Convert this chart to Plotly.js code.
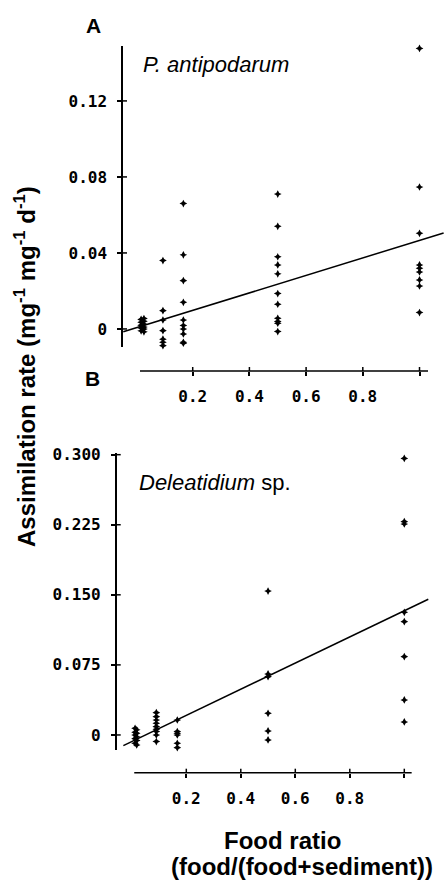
<!DOCTYPE html>
<html>
<head>
<meta charset="utf-8">
<script src="https://cdn.plot.ly/plotly-3.0.1.min.js"></script>
<style>html,body{margin:0;padding:0;background:#fff;}#chart{width:444px;height:881px;}</style>
</head>
<body>
<div id="chart"></div>
<script>
// Panel A: P. antipodarum
const xA1 = [0.018, 0.018, 0.018, 0.018, 0.018];
const yA1 = [0.005, 0.0035, 0.002, 0.0005, -0.001];
const xA2 = [0.028, 0.028, 0.028, 0.028, 0.028, 0.028];
const yA2 = [0.0055, 0.004, 0.0025, 0.001, 0, -0.0015];
const xA3 = [0.095, 0.095, 0.095, 0.095, 0.095, 0.095, 0.095];
const yA3 = [0.036, 0.0096, 0.0047, -0.0009, -0.0054, -0.007, -0.0088];
const xA4 = [0.167, 0.167, 0.167, 0.167, 0.167, 0.167, 0.167, 0.167, 0.167, 0.167];
const yA4 = [0.066, 0.039, 0.0254, 0.014, 0.0047, 0.0018, 0, -0.0026, -0.007, -0.0075];
const xA5 = [0.5, 0.5, 0.5, 0.5, 0.5, 0.5, 0.5, 0.5, 0.5, 0.5, 0.5];
const yA5 = [0.071, 0.054, 0.038, 0.0337, 0.029, 0.0186, 0.013, 0.0056, 0.0039, 0.003, -0.0014];
const xA6 = [1.0, 1.0, 1.0, 1.0, 1.0, 1.0, 1.0, 1.0, 1.0];
const yA6 = [0.1476, 0.0747, 0.0503, 0.0337, 0.032, 0.030, 0.0258, 0.0226, 0.0086];
const xLineA = [-0.045, 1.085];
const yLineA = [-0.0015, 0.0505];

// Panel B: Deleatidium sp.
const xB1 = [0.012, 0.012, 0.012, 0.012, 0.012];
const yB1 = [0.0071, 0.003, 0, -0.004, -0.0089];
const xB2 = [0.018, 0.018, 0.018, 0.018, 0.018];
const yB2 = [0.0055, 0.0018, -0.002, -0.006, -0.0107];
const xB3 = [0.09, 0.09, 0.09, 0.09, 0.09, 0.09, 0.09, 0.09, 0.09];
const yB3 = [0.0239, 0.0196, 0.016, 0.0125, 0.0089, 0.0061, 0.0036, 0, -0.0071];
const xB4 = [0.167, 0.167, 0.167, 0.167, 0.167, 0.167];
const yB4 = [0.016, 0.0036, 0.0018, 0, -0.0089, -0.0136];
const xB5 = [0.5, 0.5, 0.5, 0.5, 0.5, 0.5];
const yB5 = [0.154, 0.0653, 0.0624, 0.0232, 0.0043, -0.0053];
const xB6 = [1.0, 1.0, 1.0, 1.0, 1.0, 1.0, 1.0, 1.0];
const yB6 = [0.296, 0.2283, 0.2258, 0.1313, 0.1213, 0.0838, 0.0375, 0.0139];
const xLineB = [-0.031, 1.088];
const yLineB = [-0.0114, 0.1453];

// Tick labels
const xTickVals = [0.2, 0.4, 0.6, 0.8, 1.0];
const xTickText = ["0.2", "0.4", "0.6", "0.8", ""];
const yTickValsA = [0, 0.04, 0.08, 0.12];
const yTickTextA = ["0", "0.04", "0.08", "0.12"];
const yTickValsB = [0, 0.075, 0.150, 0.225, 0.300];
const yTickTextB = ["0", "0.075", "0.150", "0.225", "0.300"];

const W = 444, H = 881;
const px = v => v / W;
const py = v => 1 - v / H;

const mk = {symbol: 'star-diamond', size: 5.5, color: 'black'};
function pts(x, y, xa, ya) {
  return {x: x, y: y, xaxis: xa, yaxis: ya, type: 'scatter', mode: 'markers', marker: mk, cliponaxis: false, hoverinfo: 'skip'};
}
const lineStyle = {color: 'black', width: 1.5};

const data = [
  pts(xA1, yA1, 'x', 'y'), pts(xA2, yA2, 'x', 'y'), pts(xA3, yA3, 'x', 'y'),
  pts(xA4, yA4, 'x', 'y'), pts(xA5, yA5, 'x', 'y'), pts(xA6, yA6, 'x', 'y'),
  {x: xLineA, y: yLineA, xaxis: 'x', yaxis: 'y', type: 'scatter', mode: 'lines', line: lineStyle, hoverinfo: 'skip'},
  pts(xB1, yB1, 'x2', 'y2'), pts(xB2, yB2, 'x2', 'y2'), pts(xB3, yB3, 'x2', 'y2'),
  pts(xB4, yB4, 'x2', 'y2'), pts(xB5, yB5, 'x2', 'y2'), pts(xB6, yB6, 'x2', 'y2'),
  {x: xLineB, y: yLineB, xaxis: 'x2', yaxis: 'y2', type: 'scatter', mode: 'lines', line: lineStyle, hoverinfo: 'skip'}
];

const tickFont = {family: 'DejaVu Sans Mono', size: 16, color: 'black', weight: 'bold'};
const rangeXA = [-0.0459, 1.0864], rangeYA = [-0.0095, 0.1489];
const rangeXB = [-0.0554, 1.1457], rangeYB = [-0.0161, 0.3018];
const domXA = [px(123), 1], domYA = [py(347), py(46)];
const domXB = [px(116.7), 1], domYB = [py(750), py(453)];
const posXA = py(371), posXB = py(772.7);
const TL = 4; // half tick length in px

// axis value -> paper fraction (for the detached axis lines and inner tick halves)
const toPaper = (v, r, d) => d[0] + (v - r[0]) / (r[1] - r[0]) * (d[1] - d[0]);

function xax(range, dom, pos) {
  return {
    range: range, domain: dom, anchor: 'free', position: pos,
    showline: false, showgrid: false, zeroline: false,
    tickmode: 'array', tickvals: xTickVals, ticktext: xTickText,
    ticks: 'outside', ticklen: TL, tickwidth: 1.5, tickcolor: 'black',
    tickfont: tickFont, ticklabelstandoff: 7
  };
}
function yax(range, dom, anchor, vals, text) {
  return {
    range: range, domain: dom, anchor: anchor,
    showline: true, linecolor: 'black', linewidth: 1.5,
    showgrid: false, zeroline: false,
    tickmode: 'array', tickvals: vals, ticktext: text,
    ticks: 'outside', ticklen: TL, tickwidth: 1.5, tickcolor: 'black',
    tickfont: tickFont, ticklabelstandoff: 7
  };
}

const ln = {color: 'black', width: 1.5};
const P = 'paper';
const shapes = [
  {type: 'line', xref: P, yref: P, x0: toPaper(0.014, rangeXA, domXA), x1: toPaper(1.03, rangeXA, domXA), y0: posXA, y1: posXA, line: ln},
  {type: 'line', xref: P, yref: P, x0: toPaper(0.009, rangeXB, domXB), x1: toPaper(1.027, rangeXB, domXB), y0: posXB, y1: posXB, line: ln}
];
// inner halves of the crossing ticks
xTickVals.forEach(v => {
  const a = toPaper(v, rangeXA, domXA), b = toPaper(v, rangeXB, domXB);
  shapes.push({type: 'line', xref: P, yref: P, x0: a, x1: a, y0: posXA, y1: posXA + TL / H, line: ln});
  shapes.push({type: 'line', xref: P, yref: P, x0: b, x1: b, y0: posXB, y1: posXB + TL / H, line: ln});
});
yTickValsA.forEach(v => {
  const a = toPaper(v, rangeYA, domYA);
  shapes.push({type: 'line', xref: P, yref: P, x0: domXA[0], x1: domXA[0] + TL / W, y0: a, y1: a, line: ln});
});
yTickValsB.forEach(v => {
  const b = toPaper(v, rangeYB, domYB);
  shapes.push({type: 'line', xref: P, yref: P, x0: domXB[0], x1: domXB[0] + TL / W, y0: b, y1: b, line: ln});
});

const boldFont = (s) => ({family: 'Liberation Sans', size: s, color: 'black', weight: 'bold'});
const italFont = {family: 'Liberation Sans', size: 22, color: 'black', style: 'italic'};

const layout = {
  width: W, height: H,
  margin: {l: 0, r: 0, t: 0, b: 0, pad: 0},
  paper_bgcolor: 'white', plot_bgcolor: 'white',
  showlegend: false,
  xaxis: xax(rangeXA, domXA, posXA),
  yaxis: yax(rangeYA, domYA, 'x', yTickValsA, yTickTextA),
  xaxis2: xax(rangeXB, domXB, posXB),
  yaxis2: yax(rangeYB, domYB, 'x2', yTickValsB, yTickTextB),
  shapes: shapes,
  annotations: [
    {text: 'A', xref: 'paper', yref: 'paper', x: px(93), y: py(25.5), xanchor: 'center', yanchor: 'middle', showarrow: false, font: boldFont(21)},
    {text: 'B', xref: 'paper', yref: 'paper', x: px(92), y: py(378), xanchor: 'center', yanchor: 'middle', showarrow: false, font: boldFont(21)},
    {text: 'P. antipodarum', xref: 'paper', yref: 'paper', x: px(141), y: py(64.5), xanchor: 'left', yanchor: 'middle', showarrow: false, font: italFont},
    {text: '<i>Deleatidium</i> sp.', xref: 'paper', yref: 'paper', x: px(137), y: py(483), xanchor: 'left', yanchor: 'middle', showarrow: false, font: {family: 'Liberation Sans', size: 22, color: 'black'}},
    {text: 'Food ratio', xref: 'paper', yref: 'paper', x: px(282), y: py(840), xanchor: 'center', yanchor: 'middle', showarrow: false, font: boldFont(24)},
    {text: '(food/(food+sediment))', xref: 'paper', yref: 'paper', x: px(302), y: py(866), xanchor: 'center', yanchor: 'middle', showarrow: false, font: boldFont(24)},
    {text: 'Assimilation rate (mg<sup>-1</sup> mg<sup>-1</sup> d<sup>-1</sup>)', xref: 'paper', yref: 'paper', x: px(25), y: py(367), xanchor: 'center', yanchor: 'middle', textangle: -90, showarrow: false, font: boldFont(24)}
  ]
};

Plotly.newPlot('chart', data, layout, {displayModeBar: false});
</script>
</body>
</html>
